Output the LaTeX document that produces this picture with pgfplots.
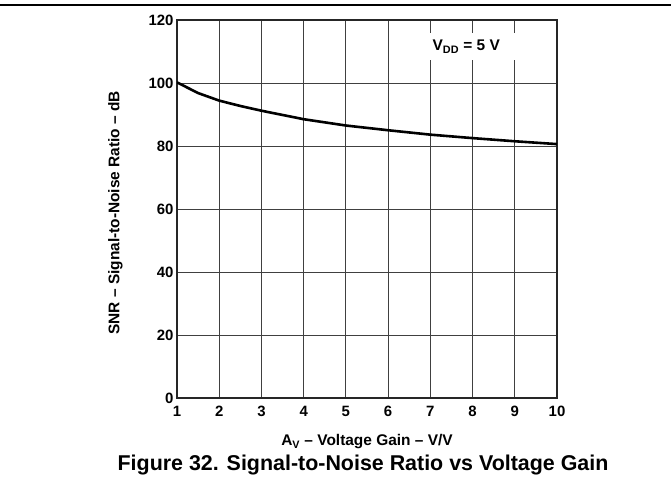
\documentclass[border=0pt]{standalone}
\usepackage{fontspec}
\setmainfont{Liberation Sans}
\usepackage{pgfplots}
\pgfplotsset{compat=1.18}
\begin{document}
\begin{tikzpicture}[x=1bp,y=1bp]
\useasboundingbox (0,0) rectangle (671,480);
\draw[line width=1.3bp] (0,475) -- (671,475);
\begin{axis}[
  at={(177bp,82bp)}, anchor=south west,
  width=380bp, height=378bp, scale only axis,
  xmin=1, xmax=10, ymin=0, ymax=120,
  xtick={1,...,10}, ytick={0,20,...,120},
  grid=major, major grid style={black!75, line width=0.8bp},
  axis line style={line width=1.3bp, black!85},
  tick style={draw=none},
  ticklabel style={font=\fontsize{15}{16}\selectfont\bfseries},
  /pgf/number format/assume math mode=true,
  xlabel={A\textsubscript{V} -- Voltage Gain -- V/V},
  ylabel={SNR -- Signal-to-Noise Ratio -- dB},
  label style={font=\fontsize{15.5}{16}\selectfont\bfseries},
  xlabel style={at={(axis description cs:0.5,-0.116)}, anchor=center},
  ylabel style={at={(axis description cs:-0.162,0.49)}, anchor=center},
  xticklabel style={yshift=-4.5bp},
  yticklabel style={xshift=0bp},
]
\fill[white] (axis cs:6.88,107.3) rectangle (axis cs:9.6,115.9);
\node[anchor=west, inner sep=0pt, font=\fontsize{15.5}{16}\selectfont\bfseries] at (axis cs:7.05,111.6) {V\textsubscript{DD} = 5 V};
\addplot[black, line width=2.6bp] coordinates {
(1,100.2) (1.5,96.8) (2,94.4) (2.5,92.7) (3,91.2) (4,88.5) (5,86.5)
(6,85.0) (7,83.6) (8,82.5) (9,81.5) (10,80.6)
};
\end{axis}
\node[font=\fontsize{21.5}{22}\selectfont\bfseries] at (363,15) {Figure 32. Signal-to-Noise Ratio vs Voltage Gain};
\end{tikzpicture}
\end{document}
